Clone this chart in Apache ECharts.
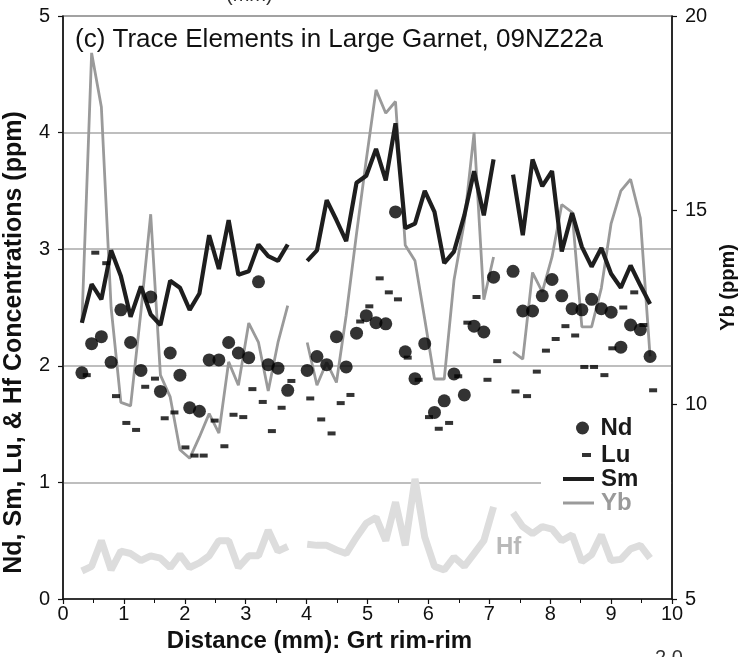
<!DOCTYPE html>
<html>
<head>
<meta charset="utf-8">
<script src="https://cdn.jsdelivr.net/npm/echarts@6/dist/echarts.min.js"></script>
<style>
html,body{margin:0;padding:0;background:#fff;}
#chart{width:742px;height:657px;}
</style>
</head>
<body>
<div id="chart"></div>
<script>
// Distance (mm) of each analysis spot (Nd, Sm, Yb, Hf)
var distance = [0.31,0.47,0.63,0.79,0.95,1.11,1.28,1.44,1.60,1.76,1.92,2.08,2.24,2.40,2.56,2.72,2.88,3.05,3.21,3.37,3.53,3.69,3.85,4.01,4.17,4.33,4.49,4.65,4.82,4.98,5.14,5.30,5.46,5.62,5.78,5.94,6.10,6.26,6.42,6.59,6.75,6.91,7.07,7.23,7.39,7.55,7.71,7.87,8.03,8.19,8.36,8.52,8.68,8.84,9.00,9.16,9.32,9.48,9.64];

var nd = [1.94,2.19,2.25,2.03,2.48,2.20,1.96,2.59,1.78,2.11,1.92,1.64,1.61,2.05,2.05,2.20,2.11,2.07,2.72,2.01,1.98,1.79,null,1.96,2.08,2.01,2.25,1.99,2.28,2.43,2.37,2.36,3.32,2.12,1.89,2.19,1.60,1.70,1.93,1.75,2.34,2.29,2.76,null,2.81,2.47,2.47,2.60,2.74,2.60,2.49,2.48,2.57,2.49,2.46,2.16,2.35,2.31,2.08];

var sm = [2.37,2.70,2.57,2.99,2.77,2.42,2.68,2.44,2.35,2.73,2.67,2.48,2.62,3.12,2.83,3.25,2.78,2.81,3.04,2.94,2.90,3.04,null,2.90,2.99,3.42,3.25,3.07,3.57,3.63,3.86,3.59,4.08,3.18,3.22,3.50,3.32,2.88,2.98,3.29,3.67,3.29,3.77,null,3.64,3.12,3.77,3.54,3.67,2.98,3.31,3.02,2.85,3.01,2.79,2.67,2.86,2.69,2.53];

var yb = [12.1,19.05,17.66,12.5,10.06,9.97,12.4,14.9,10.76,10.2,8.84,8.62,9.17,9.77,9.27,11.1,10.5,12.1,11.6,10.35,11.6,12.55,null,11.6,10.5,11.09,10.57,12.3,14.4,16.3,18.1,17.5,17.8,14.1,13.7,12.2,10.66,10.66,13.2,14.7,17.0,12.7,13.8,null,11.36,11.17,13.4,12.9,13.8,15.15,14.95,12.0,12.0,13.0,14.66,15.5,15.8,14.8,11.24];

var hf = [0.24,0.28,0.50,0.25,0.41,0.39,0.33,0.37,0.35,0.27,0.38,0.27,0.31,0.37,0.50,0.50,0.27,0.37,0.37,0.59,0.41,0.45,null,0.47,0.46,0.46,0.42,0.39,0.53,0.65,0.70,0.50,0.83,0.46,1.03,0.53,0.28,0.25,0.36,0.28,0.39,0.50,0.79,null,0.74,0.62,0.56,0.62,0.60,0.50,0.55,0.32,0.38,0.55,0.33,0.34,0.43,0.46,0.35];

// Lu spots
var luDistance = [0.39,0.53,0.71,0.87,1.04,1.20,1.35,1.51,1.67,1.83,2.01,2.16,2.31,2.49,2.65,2.80,2.96,3.11,3.28,3.43,3.59,3.75,4.06,4.24,4.41,4.56,4.72,4.88,5.03,5.20,5.35,5.50,5.66,5.84,6.01,6.17,6.34,6.49,6.64,6.79,6.97,7.13,7.43,7.62,7.78,7.93,8.09,8.25,8.41,8.56,8.72,8.89,9.02,9.20,9.38,9.53,9.69];
var lu = [1.92,2.97,2.88,1.74,1.51,1.45,1.82,1.89,1.55,1.60,1.30,1.23,1.23,1.53,1.31,1.58,1.56,1.80,1.69,1.44,1.64,1.87,1.72,1.54,1.42,1.68,1.75,2.38,2.51,2.75,2.63,2.57,2.07,1.88,1.56,1.46,1.51,1.91,2.37,2.59,1.88,2.04,1.78,1.74,1.95,2.13,2.23,2.34,2.26,1.99,1.99,1.92,2.15,2.50,2.63,2.35,1.79];

var xTicks = [0,1,2,3,4,5,6,7,8,9,10];
var leftTicks = [0,1,2,3,4,5];
var rightTicks = [5,10,15,20];

function pairs(xs, ys){ return xs.map(function(x,i){ return [x, ys[i]]; }); }

var FONT = '"Liberation Sans", Arial, sans-serif';
var chart = echarts.init(document.getElementById('chart'), null, {renderer:'canvas'});

var legendText = {fontFamily:FONT, fontWeight:'bold', fontSize:24, color:'#1a1a1a'};

chart.setOption({
  animation:false,
  backgroundColor:'#fff',
  grid:{left:63, right:70, top:16, bottom:58, containLabel:false, outerBoundsMode:'none',
        show:true, borderColor:'#222', borderWidth:1.2, backgroundColor:'transparent'},
  title:{text:'(c) Trace Elements in Large Garnet, 09NZ22a', left:75, top:27, padding:0,
    textStyle:{fontFamily:FONT, fontWeight:'normal', fontSize:26, color:'#111'}},
  xAxis:{type:'value', min:xTicks[0], max:xTicks[xTicks.length-1], interval:1,
    name:'Distance (mm): Grt rim-rim', nameLocation:'middle', nameGap:24,
    nameTextStyle:{fontFamily:FONT, fontWeight:'bold', fontSize:24, color:'#111', padding:[0,96,0,0]},
    axisLine:{show:true, onZero:false, lineStyle:{color:'#111', width:1.5}},
    axisTick:{show:true, inside:false, length:5, lineStyle:{color:'#111', width:1.2}},
    minorTick:{show:true, splitNumber:2, length:4, lineStyle:{color:'#111', width:1}},
    axisLabel:{fontFamily:FONT, fontSize:20, color:'#111', margin:5},
    splitLine:{show:false}},
  yAxis:[
    {type:'value', min:leftTicks[0], max:leftTicks[leftTicks.length-1], interval:1, position:'left',
     name:'Nd, Sm, Lu, & Hf Concentrations (ppm)', nameLocation:'middle', nameGap:36, nameRotate:90,
     nameTextStyle:{fontFamily:FONT, fontWeight:'bold', fontSize:25, color:'#111', padding:[0,70,0,0]},
     axisLine:{show:true, lineStyle:{color:'#111', width:1.5}},
     axisTick:{show:true, inside:false, length:5, lineStyle:{color:'#111', width:1.2}},
     axisLabel:{fontFamily:FONT, fontSize:20, color:'#111', margin:13},
     splitLine:{show:true, lineStyle:{color:'#a8a8a8', width:1.5}}},
    {type:'value', min:rightTicks[0], max:rightTicks[rightTicks.length-1], interval:5, position:'right',
     name:'Yb (ppm)', nameLocation:'middle', nameGap:42, nameRotate:90,
     nameTextStyle:{fontFamily:FONT, fontWeight:'bold', fontSize:20, color:'#111', padding:[0,0,0,40]},
     axisLine:{show:true, lineStyle:{color:'#111', width:1.5}},
     axisTick:{show:true, inside:false, length:5, lineStyle:{color:'#111', width:1.2}},
     axisLabel:{fontFamily:FONT, fontSize:20, color:'#111', margin:13},
     splitLine:{show:false}}
  ],
  legend:[
    {data:['Nd'], left:576, top:416, orient:'vertical', padding:0, itemWidth:22, itemHeight:13, icon:'circle', textStyle:Object.assign({}, legendText, {padding:[0,0,0,2]})},
    {data:['Lu'], left:582, top:443, orient:'vertical', padding:0, itemWidth:9, itemHeight:4, icon:'rect', textStyle:Object.assign({}, legendText, {padding:[0,0,0,5]})},
    {data:['Sm'], left:563, top:467, orient:'vertical', padding:0, itemWidth:31, itemHeight:4, icon:'rect', textStyle:Object.assign({}, legendText, {padding:[0,0,0,2]})},
    {data:[{name:'Yb', textStyle:{color:'#9a9a9a'}}], left:563, top:491, orient:'vertical', padding:0, itemWidth:31, itemHeight:3, icon:'rect', textStyle:Object.assign({}, legendText, {color:'#9a9a9a', padding:[0,0,0,2]})}
  ],
  graphic:[
    {type:'rect', z:1, shape:{x:541, y:412, width:130, height:106}, style:{fill:'#fff'}, silent:true},
    {type:'text', z:5, left:496, top:535, style:{text:'Hf', fontFamily:FONT, fontWeight:'bold', fontSize:24, fill:'#b9b9b9'}},
    {type:'text', z:5, left:226, top:-15, style:{text:'(mm)', fontFamily:FONT, fontSize:20, fill:'#333'}},
    {type:'text', z:5, left:655, top:648, style:{text:'2.0', fontFamily:FONT, fontSize:20, fill:'#333'}}
  ],
  series:[
    {name:'Hf', type:'line', yAxisIndex:0, data:pairs(distance, hf), symbol:'none', connectNulls:false, z:2,
     lineStyle:{color:'#dddddd', width:7}, itemStyle:{color:'#dddddd'}},
    {name:'Yb', type:'line', yAxisIndex:1, data:pairs(distance, yb), symbol:'none', connectNulls:false, z:3,
     lineStyle:{color:'#9a9a9a', width:2.8}, itemStyle:{color:'#9a9a9a'}},
    {name:'Sm', type:'line', yAxisIndex:0, data:pairs(distance, sm), symbol:'none', connectNulls:false, z:4,
     lineStyle:{color:'#1e1e1e', width:4.2}, itemStyle:{color:'#1e1e1e'}},
    {name:'Nd', type:'scatter', yAxisIndex:0, data:pairs(distance, nd), symbol:'circle', symbolSize:13, z:5,
     itemStyle:{color:'#000'}},
    {name:'Lu', type:'scatter', yAxisIndex:0, data:pairs(luDistance, lu), symbol:'rect', symbolSize:[8,4], z:5,
     itemStyle:{color:'#000'}}
  ]
});
</script>
</body>
</html>
